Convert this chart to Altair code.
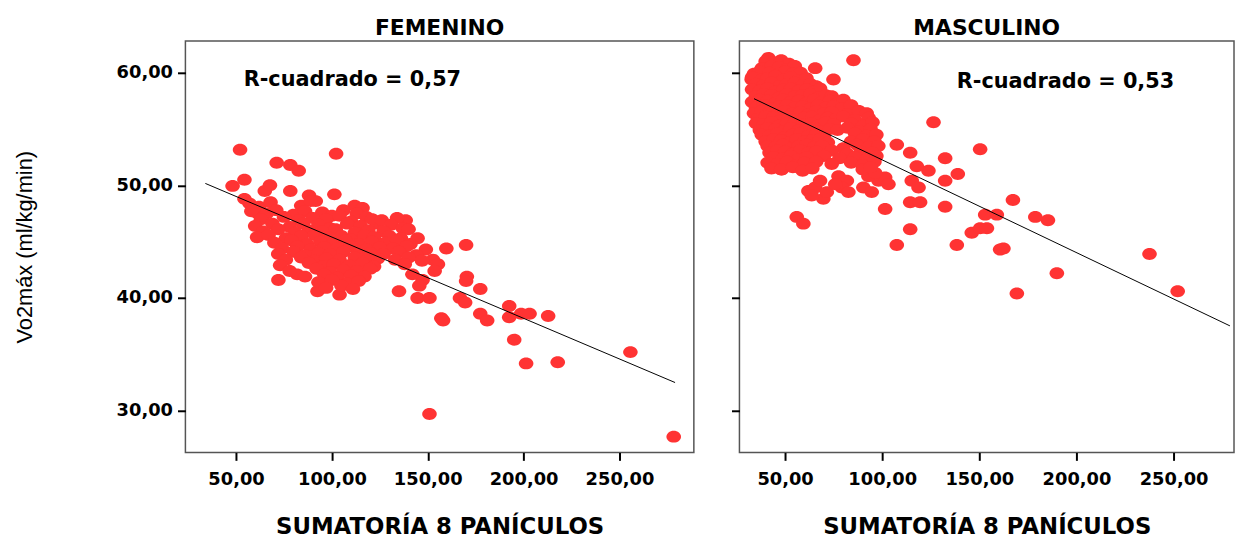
import altair as alt
import pandas as pd

# ---------------- data ----------------
fem_outer = [
    (52.1, 53.15), (102.2, 52.8), (71.2, 52.0), (78.3, 51.8), (82.7, 51.3),
    (48.2, 49.95), (54.4, 50.5), (54.4, 48.8), (65.0, 49.5), (67.7, 50.0),
    (78.3, 49.5), (88.1, 49.1), (91.6, 48.6), (101.3, 49.2), (111.9, 48.2),
    (60.6, 47.6), (138.5, 46.9), (123.5, 46.6), (144.7, 45.3), (64.2, 45.7),
    (159.7, 44.4), (170.0, 44.7), (72.1, 41.6), (81.9, 42.1), (92.5, 40.6),
    (104.0, 40.3), (135.0, 40.6), (144.7, 40.0), (150.9, 40.0), (157.1, 38.2),
    (158.0, 38.0), (166.8, 40.0), (169.5, 39.6), (170.4, 41.9), (170.0, 41.5),
    (177.4, 40.8), (177.4, 38.6), (181.0, 38.0), (192.5, 39.3), (192.5, 38.3),
    (198.7, 38.6), (203.1, 38.6), (212.8, 38.4), (195.1, 36.3), (201.3, 34.2),
    (217.8, 34.3), (255.7, 35.2), (150.9, 29.7), (278.3, 27.7), (152.7, 43.4),
    (155.3, 43.0), (153.6, 42.4), (147.3, 41.6), (142.0, 42.1), (145.6, 41.1),
]
fem_core = [
    (57, 48.4), (62, 48.1), (68, 48.5), (84, 48.2), (89, 48.6), (116, 48.0),
    (58, 47.7), (66, 47.5), (71, 47.8), (80, 47.4), (86, 47.7), (95, 47.6), (100, 47.3), (106, 47.8), (113, 47.5), (118, 47.2),
    (63, 47.0), (75, 47.2), (83, 46.9), (90, 47.1), (97, 47.0), (104, 47.3), (110, 46.8), (121, 47.0), (126, 46.9), (134, 47.1),
    (60, 46.4), (69, 46.6), (78, 46.3), (85, 46.6), (93, 46.5), (99, 46.2), (108, 46.6), (115, 46.4), (131, 46.5), (137, 46.2),
    (64, 45.9), (72, 46.1), (81, 45.8), (88, 46.0), (95, 45.9), (102, 46.1), (112, 45.8), (119, 46.0), (127, 45.9), (140, 46.1),
    (61, 45.4), (67, 45.6), (76, 45.3), (84, 45.5), (91, 45.6), (98, 45.4), (105, 45.5), (110, 45.2), (117, 45.6), (122, 45.4), (130, 45.5), (136, 45.3),
    (70, 44.9), (79, 45.1), (87, 44.8), (94, 45.0), (101, 44.9), (107, 45.1), (114, 44.8), (121, 45.0), (128, 44.9), (134, 45.1), (141, 44.8),
    (74, 44.4), (82, 44.6), (89, 44.3), (96, 44.5), (103, 44.4), (110, 44.6), (118, 44.3), (125, 44.5), (132, 44.4), (139, 44.6), (149, 44.3),
    (72, 43.9), (80, 44.1), (86, 43.8), (93, 44.0), (99, 43.9), (106, 44.1), (113, 43.8), (120, 44.0), (127, 43.9), (135, 44.1), (144, 43.8),
    (76, 43.4), (84, 43.6), (91, 43.3), (97, 43.5), (104, 43.4), (112, 43.6), (118, 43.3), (124, 43.5), (133, 43.4), (140, 43.6), (147, 43.3),
    (73, 42.9), (88, 43.1), (95, 42.8), (101, 43.0), (109, 42.9), (116, 43.1), (122, 42.8), (138, 43.0),
    (78, 42.4), (92, 42.6), (99, 42.3), (106, 42.5), (113, 42.4), (120, 42.6),
    (86, 41.9), (96, 42.1), (103, 41.8), (110, 42.0), (117, 41.9),
    (93, 41.4), (100, 41.6), (108, 41.3), (114, 41.5),
    (97, 40.9), (105, 41.1), (111, 40.8),
]

masc_outer = [
    (85.2, 61.1), (65.5, 60.4), (41.4, 61.3), (47.4, 61.0), (74.9, 59.4), (32.8, 59.4),
    (126.4, 55.6), (150.4, 53.2), (107.5, 53.6), (114.4, 52.9), (132.4, 52.4), (138.9, 51.0),
    (123.8, 51.3), (117.8, 51.7), (132.4, 50.4), (115.2, 50.4), (118.7, 49.8), (101.5, 47.9),
    (114.4, 48.5), (119.5, 48.5), (132.4, 48.1), (167.3, 48.7), (153.0, 47.4), (159.0, 47.4),
    (178.8, 47.2), (185.3, 46.9), (56.0, 47.2), (59.4, 46.6), (114.4, 46.1), (146.1, 45.8),
    (150.4, 46.2), (153.9, 46.2), (107.5, 44.7), (138.4, 44.7), (160.7, 44.3), (162.4, 44.4),
    (189.9, 42.2), (169.3, 40.4), (237.6, 43.9), (252.1, 40.6),
]
masc_mid = [
    (62, 49.5), (65.5, 49.8), (69.7, 48.8), (63.7, 49.1), (71.5, 49.4), (68, 50.4),
    (77.5, 50.8), (81.8, 50.4), (79.2, 49.8), (82.6, 49.4), (75.8, 50.1), (90.3, 49.8),
    (94.6, 49.4), (98.1, 50.4), (101.5, 50.7), (103.2, 50.1), (92.9, 50.8), (96.4, 51.1),
    (43.1, 51.7), (48.3, 51.4), (59.4, 51.8), (63.7, 51.8), (52.6, 52.1), (56.9, 51.6),
]
masc_core = [
    (40, 61.0), (44, 60.9), (48, 61.1), (52, 60.8),
    (38, 60.4), (43, 60.6), (47, 60.5), (51, 60.3), (55, 60.6),
    (34, 59.9), (37, 60.1), (42, 60.0), (46, 59.8), (50, 60.1), (54, 59.9), (58, 60.0),
    (33, 59.6), (38, 59.4), (41, 59.5), (45, 59.7), (49, 59.4), (53, 59.6), (57, 59.3), (61, 59.5),
    (35, 59.0), (39, 58.9), (43, 59.1), (47, 58.8), (51, 59.0), (55, 59.1), (59, 58.9), (63, 59.0), (66, 58.8),
    (33, 58.5), (37, 58.4), (41, 58.6), (45, 58.3), (49, 58.5), (53, 58.6), (57, 58.4), (61, 58.5), (65, 58.3), (68, 58.6),
    (35, 57.9), (39, 58.1), (43, 58.0), (47, 57.8), (51, 58.1), (55, 57.9), (59, 58.0), (63, 58.1), (67, 57.8), (71, 58.0), (74, 57.9),
    (33, 57.4), (37, 57.6), (41, 57.5), (45, 57.3), (49, 57.6), (53, 57.4), (57, 57.5), (61, 57.3), (65, 57.6), (69, 57.4), (73, 57.5), (77, 57.3), (80, 57.6),
    (35, 56.9), (39, 57.1), (43, 56.8), (47, 57.0), (51, 57.1), (55, 56.9), (59, 57.0), (63, 56.8), (67, 57.1), (71, 56.9), (75, 57.0), (79, 56.8), (84, 57.1),
    (34, 56.4), (38, 56.6), (42, 56.5), (46, 56.3), (50, 56.6), (54, 56.4), (58, 56.5), (62, 56.3), (66, 56.6), (70, 56.4), (74, 56.5), (82, 56.3), (88, 56.6), (92, 56.4),
    (36, 55.9), (40, 56.1), (44, 56.0), (48, 55.8), (52, 56.1), (56, 55.9), (60, 56.0), (64, 56.1), (68, 55.8), (72, 56.0), (76, 55.9), (80, 56.1), (86, 55.8), (93, 56.0),
    (35, 55.5), (39, 55.4), (43, 55.6), (47, 55.3), (51, 55.5), (55, 55.6), (59, 55.4), (63, 55.5), (67, 55.3), (71, 55.6), (75, 55.4), (84, 55.5), (90, 55.3), (95, 55.6),
    (37, 54.9), (41, 55.1), (45, 55.0), (49, 54.8), (53, 55.1), (57, 54.9), (61, 55.0), (65, 55.1), (69, 54.8), (73, 55.0), (77, 54.9), (82, 55.1), (88, 54.8), (94, 55.0),
    (38, 54.5), (42, 54.4), (46, 54.6), (50, 54.3), (54, 54.5), (58, 54.6), (62, 54.4), (66, 54.5), (70, 54.3), (86, 54.6), (92, 54.4), (97, 54.5),
    (40, 53.9), (44, 54.1), (48, 54.0), (52, 53.8), (56, 54.1), (60, 53.9), (64, 54.0), (68, 54.1), (72, 53.8), (84, 53.9), (90, 54.1), (96, 53.9),
    (41, 53.5), (45, 53.4), (49, 53.6), (53, 53.3), (57, 53.5), (61, 53.6), (65, 53.4), (69, 53.5), (80, 53.3), (87, 53.6), (93, 53.4), (98, 53.5),
    (42, 52.9), (46, 53.1), (50, 53.0), (54, 52.8), (58, 53.1), (62, 52.9), (66, 53.0), (74, 53.1), (82, 52.8), (89, 53.0), (95, 52.9),
    (44, 52.5), (49, 52.4), (53, 52.6), (57, 52.3), (61, 52.5), (70, 52.6), (78, 52.4), (86, 52.5), (92, 52.3), (97, 52.6),
    (41, 52.0), (46, 51.9), (51, 52.1), (56, 51.8), (60, 52.0), (66, 52.1), (74, 51.9), (84, 52.0), (90, 51.8), (96, 52.1),
    (43, 51.5), (48, 51.4), (54, 51.6), (59, 51.3), (64, 51.5), (90, 51.4), (94, 51.6),
]

fit_x = [34, 279]
fem_fit_y = [50.17, 32.5]
masc_fit_y = [57.69, 37.53]

x_ticks = [50, 100, 150, 200, 250]
y_ticks = [30, 40, 50, 60]
y_domain = [26.3, 62.8]
fem_x_domain = [23.6, 288.8]
masc_x_domain = [26.5, 281.1]

panel_titles = ["FEMENINO", "MASCULINO"]
r2_labels = ["R-cuadrado = 0,57", "R-cuadrado = 0,53"]
r2_pos = [(54.0, 58.8), (138.4, 58.6)]
x_title = "SUMATORÍA 8 PANÍCULOS"
y_title = "Vo2máx (ml/kg/min)"

RED = "#ff3333"
ELLIPSE = "M -1 0 A 1 0.82 0 1 0 1 0 A 1 0.82 0 1 0 -1 0 Z"
LABEL_EXPR = "replace(format(datum.value, '.2f'), '.', ',')"


def panel(points, fit_y, title, r2_text, r2_xy, x_domain, width, first):
    pts = pd.DataFrame(points, columns=["x", "y"])
    fit = pd.DataFrame({"x": fit_x, "y": fit_y})
    ann = pd.DataFrame({"x": [r2_xy[0]], "y": [r2_xy[1]], "t": [r2_text]})

    common = dict(
        domain=False, grid=False, ticks=True, tickColor="black", tickWidth=2, tickSize=8,
        labelFont="DejaVu Sans", labelFontWeight="bold", labelFontSize=18,
        labelColor="black",
    )
    xenc = alt.X(
        "x:Q",
        scale=alt.Scale(domain=x_domain, nice=False, zero=False),
        axis=alt.Axis(
            values=x_ticks, labelExpr=LABEL_EXPR, title=x_title, labelPadding=10,
            titleFont="DejaVu Sans", titleFontWeight="bold", titleFontSize=23,
            titlePadding=28, titleColor="black", **common,
        ),
    )
    if first:
        yaxis = alt.Axis(
            values=y_ticks, labelExpr=LABEL_EXPR, title=y_title, labelPadding=5,
            titleFont="Liberation Sans", titleFontWeight="normal", titleFontSize=22,
            titlePadding=80, titleColor="black", **common,
        )
    else:
        yaxis = alt.Axis(values=y_ticks, labels=False, title=None, **common)
    yenc = alt.Y("y:Q", scale=alt.Scale(domain=y_domain, nice=False, zero=False), axis=yaxis)

    dots = alt.Chart(pts).mark_point(
        shape=ELLIPSE, filled=True, size=216, color=RED, opacity=1, strokeWidth=0
    ).encode(x=xenc, y=yenc)
    line = alt.Chart(fit).mark_line(color="black", strokeWidth=1).encode(x="x:Q", y="y:Q")
    txt = alt.Chart(ann).mark_text(
        align="left", baseline="alphabetic", font="DejaVu Sans", fontWeight="bold",
        fontSize=21, color="black",
    ).encode(x="x:Q", y="y:Q", text="t:N")

    return alt.layer(dots, line, txt).properties(
        width=width, height=415,
        title=alt.TitleParams(
            text=title, font="DejaVu Sans", fontWeight="bold", fontSize=22,
            anchor="middle", offset=1, color="black",
        ),
    )


left = panel(fem_outer + fem_core, fem_fit_y, panel_titles[0], r2_labels[0], r2_pos[0],
             fem_x_domain, 513, True)
right = panel(masc_outer + masc_mid + masc_core, masc_fit_y, panel_titles[1], r2_labels[1],
              r2_pos[1], masc_x_domain, 499, False)

chart = (
    alt.hconcat(left, right, spacing=35)
    .properties(padding={"left": 5, "top": 6, "right": 0, "bottom": 0}, background="white")
    .configure_view(stroke="#555555", strokeWidth=1.5)
)

chart.save("out.html", embed_options={"renderer": "svg", "actions": False})
